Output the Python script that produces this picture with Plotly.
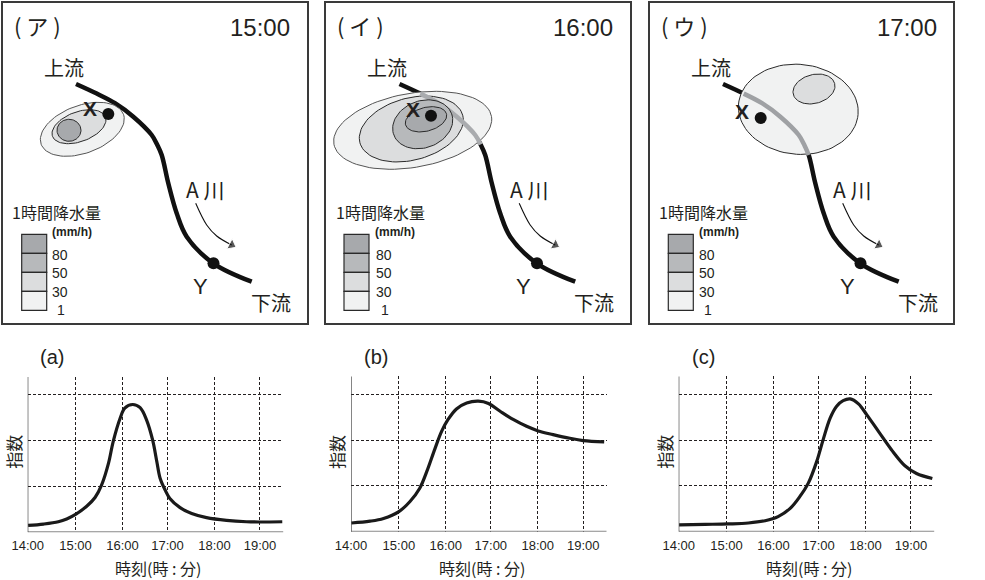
import math
import plotly.graph_objects as go

W, H = 985, 580
INK = "#231f20"
JP = "Noto Sans CJK JP"
LAT = "Liberation Sans"

# ---- map panels (units: local map units, origin at each panel's top-left corner)
panel_names = ["( ア )", "( イ )", "( ウ )"]
panel_times = ["15:00", "16:00", "17:00"]
panel_left = [2.5, 326.0, 649.5]
panel_right = [306.5, 630.0, 953.0]

river_x = [73.5, 94.2, 112.5, 130.8, 149.2, 154.6, 159.2, 165.8, 174.2, 184.2, 210.8, 249.2]
river_y = [81.0, 90.6, 100.2, 113.7, 132.0, 141.5, 152.0, 180.3, 210.3, 233.7, 260.3, 278.7]
gray_stretch = [None, (1, 5), (1, 6)]
gray_color = [None, "#a9abae", "#9fa1a4"]

flow_x = [193.2, 204.2, 214.2, 229.2]
flow_y = [200.3, 222.0, 233.0, 242.0]

point_x_xy = [(105.8, 111.0), (105.0, 112.7), (111.2, 115.0)]
label_x_xy = [(87.5, 105.3), (86.7, 107.0), (92.2, 108.7)]
point_y_xy = (211.0, 260.3)
label_y_xy = (197.5, 283.0)

# rain cells: centre x, centre y, semi-major, semi-minor, tilt deg, level index
rain_cells = [
    [(79.8, 126.3, 43.8, 23.9, 20, 3), (76.5, 123.7, 28.2, 14.9, 20, 2), (66.5, 127.3, 12.0, 11.0, 0, 0)],
    [(86.7, 127.3, 80.0, 37.0, 10, 3), (85.3, 126.0, 53.2, 31.0, 15, 2),
     (96.7, 121.3, 30.8, 23.5, 20, 1), (100.0, 116.3, 21.2, 11.8, 15, 0)],
    [(148.8, 106.3, 60.0, 45.0, -5, 3), (164.5, 86.0, 21.4, 14.4, 15, 2)],
]

level_colors = ["#a7a9ac", "#b7b9bb", "#dcddde", "#f1f2f2"]
level_labels = ["80", "50", "30", "1"]
level_label_y = [252.0, 270.3, 289.3, 307.0]
legend_left = [19.2, 18.0, 18.8]

# ---- index charts
chart_names = ["(a)", "(b)", "(c)"]
chart_left = [27.7, 351.0, 678.7]
chart_bottom = [532.3, 531.7, 531.7]
hour_labels = ["14:00", "15:00", "16:00", "17:00", "18:00", "19:00"]
hour_ticks = [14.0, 15.03, 16.04, 17.01, 18.02, 19.0]
index_ticks = [1, 2, 3]

a_hours = [14.01, 14.34, 14.66, 14.84, 15.03, 15.27, 15.45, 15.59, 15.74, 15.84, 15.99, 16.09, 16.26, 16.42,
           16.56, 16.69, 16.78, 16.85, 16.96, 17.06, 17.28, 17.53, 17.85, 18.28, 18.71, 19.0, 19.48]
a_index = [0.15, 0.18, 0.23, 0.29, 0.39, 0.57, 0.76, 1.03, 1.51, 1.98, 2.49, 2.71, 2.79, 2.72,
           2.45, 2.01, 1.54, 1.18, 0.92, 0.74, 0.54, 0.41, 0.32, 0.26, 0.23, 0.225, 0.23]
b_hours = [14.01, 14.41, 14.70, 15.03, 15.27, 15.48, 15.63, 15.81, 15.95, 16.09, 16.27, 16.49, 16.74, 16.96,
           17.21, 17.49, 17.78, 18.03, 18.35, 18.71, 19.0, 19.45]
b_index = [0.19, 0.23, 0.29, 0.44, 0.66, 0.95, 1.31, 1.82, 2.19, 2.45, 2.68, 2.81, 2.85, 2.80,
           2.63, 2.45, 2.30, 2.20, 2.12, 2.04, 1.99, 1.96]
c_hours = [14.01, 14.57, 15.07, 15.50, 15.86, 16.14, 16.40, 16.61, 16.79, 16.97, 17.11, 17.26, 17.40, 17.54,
           17.69, 17.87, 18.05, 18.30, 18.58, 18.87, 19.12, 19.46]
c_index = [0.15, 0.16, 0.17, 0.19, 0.24, 0.33, 0.51, 0.77, 1.06, 1.53, 2.01, 2.48, 2.74, 2.86,
           2.90, 2.79, 2.55, 2.19, 1.79, 1.44, 1.27, 1.16]
chart_series = [(a_hours, a_index), (b_hours, b_index), (c_hours, c_index)]


def ellipse(cx, cy, a, b, tilt, n=90):
    t = math.radians(tilt)
    xs, ys = [], []
    for i in range(n + 1):
        u = 2 * math.pi * i / n
        ex, ey = a * math.cos(u), b * math.sin(u)
        xs.append(cx + ex * math.cos(t) - ey * math.sin(t))
        ys.append(cy - ex * math.sin(t) - ey * math.cos(t))
    return xs, ys


fig = go.Figure()
annos = []
layout_axes = {}


def text(s, x, y, xr, yr, size, font=LAT, color=INK, **kw):
    annos.append(dict(text=s, x=x, y=y, xref=xr, yref=yr, showarrow=False,
                      font=dict(family=font, size=size, color=color),
                      xanchor="center", yanchor="middle", **kw))


for i in range(3):
    ax = "" if i == 0 else str(i + 1)
    xa, ya = "x" + ax, "y" + ax
    width = panel_right[i] - panel_left[i]
    layout_axes["xaxis" + ax] = dict(domain=[panel_left[i] / W, panel_right[i] / W], range=[0, width], anchor=ya,
                                     automargin=False, showgrid=False, zeroline=False, showticklabels=False, ticks="",
                                     showline=True, mirror=True, linecolor="#3a3a3a", linewidth=1.5)
    layout_axes["yaxis" + ax] = dict(domain=[1 - 322.7 / H, 1 - 3 / H], range=[319.7, 0], anchor=xa,
                                     automargin=False, showgrid=False, zeroline=False, showticklabels=False, ticks="",
                                     showline=True, mirror=True, linecolor="#3a3a3a", linewidth=1.5)
    axes = dict(xaxis=xa, yaxis=ya, showlegend=False, hoverinfo="skip")

    fig.add_trace(go.Bar(x=[legend_left[i] + 12.5] * 4, y=[19] * 4, base=[231.3, 250.3, 269.3, 288.3], width=25,
                         marker=dict(color=level_colors, line=dict(color="#2a2a2a", width=1.2)), **axes))
    fig.add_trace(go.Scatter(x=river_x, y=river_y, mode="lines",
                             line=dict(color="#111111", width=4.5, shape="spline", smoothing=1.0), **axes))

    for j, (cx, cy, a, b, tilt, lvl) in enumerate(rain_cells[i]):
        ex, ey = ellipse(cx, cy, a, b, tilt)
        edge = "#555555" if (j == 0 and i < 2) else "#2a2a2a"
        fig.add_trace(go.Scatter(x=ex, y=ey, mode="lines", fill="toself", fillcolor=level_colors[lvl],
                                 line=dict(color=edge, width=1.0), **axes))
        if gray_stretch[i] and j == (1 if i == 1 else 0):
            s, e = gray_stretch[i]
            fig.add_trace(go.Scatter(x=river_x[s:e + 1], y=river_y[s:e + 1], mode="lines",
                                     line=dict(color=gray_color[i], width=4.5, shape="spline", smoothing=1.0), **axes))

    fig.add_trace(go.Scatter(x=[point_x_xy[i][0], point_y_xy[0]], y=[point_x_xy[i][1], point_y_xy[1]], mode="markers",
                             marker=dict(color="#111111", size=12), **axes))
    fig.add_trace(go.Scatter(x=flow_x, y=flow_y, mode="lines+markers",
                             line=dict(color="#111111", width=1.1, shape="spline"),
                             marker=dict(symbol="triangle-up", size=[0, 0, 0, 10], angle=[0, 0, 0, 118], color="#111111"),
                             **axes))

    text(panel_names[i], 34.5, 22, xa, ya, 22, JP)
    text(panel_times[i], 257, 25, xa, ya, 24, LAT)
    text("上流", 61, 65, xa, ya, 20, JP)
    text("下流", 268, 299, xa, ya, 20, JP)
    text("<b>X</b>", label_x_xy[i][0], label_x_xy[i][1], xa, ya, 21, LAT)
    text("Y", label_y_xy[0], label_y_xy[1], xa, ya, 22, LAT)
    text("A 川", 202.5, 186.5, xa, ya, 21, JP)
    text("1時間降水量", 54, 209, xa, ya, 16, JP)
    text("<b>(mm/h)</b>", 69, 229, xa, ya, 12, LAT)
    for lab, ly in zip(level_labels, level_label_y):
        text(lab, 57.5 if lab != "1" else 58.5, ly, xa, ya, 14, LAT)

for i in range(3):
    ax = str(i + 4)
    xa, ya = "x" + ax, "y" + ax
    left, bottom = chart_left[i], chart_bottom[i]
    layout_axes["xaxis" + ax] = dict(domain=[left / W, (left + 255.5) / W], range=[14, 19.5], anchor=ya,
                                     automargin=False, tickvals=hour_ticks, ticktext=hour_labels,
                                     tickfont=dict(family=LAT, size=13, color=INK), ticks="", ticklabelstandoff=4,
                                     showgrid=True, griddash="3px,2px", gridcolor=INK, gridwidth=1,
                                     zeroline=False, showline=False)
    layout_axes["yaxis" + ax] = dict(domain=[1 - bottom / H, 1 - (bottom - 155.3) / H], range=[0, 3.39], anchor=xa,
                                     automargin=False, tickvals=index_ticks, showticklabels=False, ticks="",
                                     showgrid=True, griddash="3px,2px", gridcolor=INK, gridwidth=1,
                                     zeroline=False, showline=False)
    axes = dict(xaxis=xa, yaxis=ya, showlegend=False, hoverinfo="skip")
    fig.add_trace(go.Scatter(x=[14, 19.67], y=[0, 0], mode="lines+markers", cliponaxis=False,
                             line=dict(color="#8a8a8a", width=2),
                             marker=dict(symbol="triangle-right", size=[0, 10], color="#111111"), **axes))
    fig.add_trace(go.Scatter(x=[14, 14], y=[0, 3.43], mode="lines+markers", cliponaxis=False,
                             line=dict(color="#333333", width=1.2),
                             marker=dict(symbol="triangle-up", size=[0, 10], color="#111111"), **axes))
    hrs, idx = chart_series[i]
    fig.add_trace(go.Scatter(x=hrs, y=idx, mode="lines",
                             line=dict(color="#1a1a1a", width=3.2, shape="spline", smoothing=1.0), **axes))
    text(chart_names[i], (left + 24.5) / W, 1 - 357 / H, "paper", "paper", 20, LAT)
    text("時刻(時 : 分)", (left + 130.5) / W, 1 - 568 / H, "paper", "paper", 16, JP)
    text("指数", (left - 15) / W, 1 - 452 / H, "paper", "paper", 17, JP, textangle=-90)

fig.update_layout(width=W, height=H, margin=dict(l=0, r=0, t=0, b=0), paper_bgcolor="white", plot_bgcolor="white",
                  showlegend=False, annotations=annos, **layout_axes)
fig.write_html("out.html", config=dict(displayModeBar=False),
               post_script="document.body.style.margin='0';")
